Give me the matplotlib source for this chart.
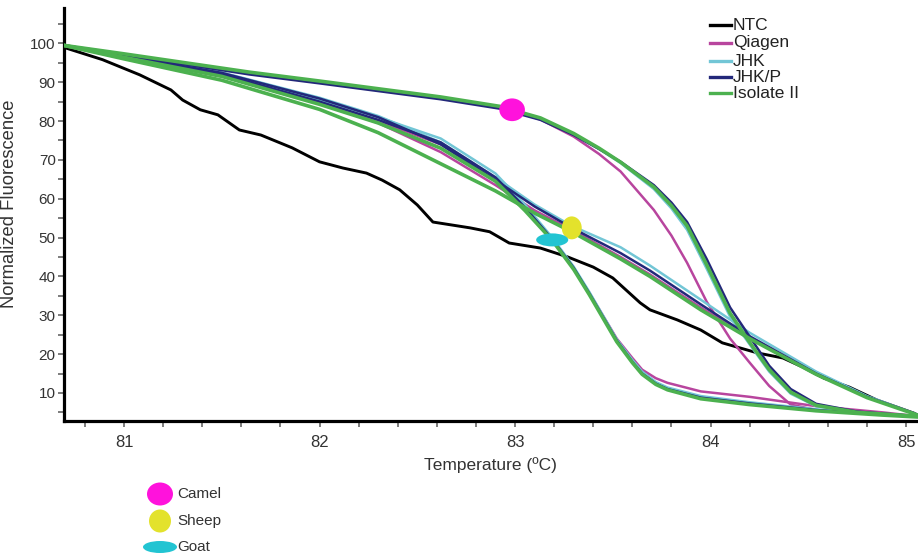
import numpy as np
import matplotlib
matplotlib.use("Agg")
import matplotlib.pyplot as plt
from matplotlib.patches import Ellipse
from matplotlib.lines import Line2D

plt.rcParams['font.family'] = ['Liberation Sans', 'DejaVu Sans']

# No-template control
ntc_temp = [80.69, 80.89, 81.08, 81.24, 81.30, 81.39, 81.48, 81.59, 81.70, 81.86,
            82.00, 82.12, 82.24, 82.32, 82.41, 82.50, 82.58, 82.77, 82.87, 82.97,
            83.13, 83.27, 83.40, 83.50, 83.64, 83.69, 83.83, 83.95, 84.06, 84.24,
            84.37, 84.47, 84.58, 84.71, 84.85, 85.04]
ntc_fluor = [99.0, 95.8, 91.9, 88.0, 85.4, 82.9, 81.6, 77.7, 76.4, 73.1,
             69.5, 67.9, 66.6, 64.8, 62.3, 58.4, 54.0, 52.5, 51.5, 48.6,
             47.3, 45.0, 42.4, 39.6, 33.2, 31.4, 28.8, 26.2, 22.9, 20.3,
             19.0, 16.7, 13.8, 11.5, 8.2, 4.8]

# Camel melt curves, one per extraction kit
camel_temp = [80.69, 81.0, 81.64, 82.0, 82.62, 82.92, 83.13, 83.30, 83.43, 83.54,
              83.71, 83.80, 83.88, 83.98, 84.10, 84.20, 84.30, 84.41, 84.54, 84.75, 85.06]
camel_qiagen = [99.5, 97.2, 92.4, 90.1, 86.0, 83.6, 80.4, 76.0, 71.5, 67.0,
                57.1, 50.5, 43.5, 33.5, 24.0, 17.8, 11.8, 7.0, 5.6, 4.8, 4.0]
camel_jhk = [99.5, 97.2, 92.4, 90.1, 86.0, 83.6, 80.6, 76.6, 72.8, 69.2,
             62.5, 57.5, 52.0, 42.0, 29.6, 22.5, 15.5, 9.8, 6.6, 5.0, 4.0]
camel_jhkp = [99.5, 97.0, 92.0, 89.7, 85.6, 83.2, 80.3, 76.4, 72.8, 69.5,
              63.5, 59.0, 54.0, 44.5, 32.0, 24.5, 17.0, 11.0, 7.2, 5.2, 4.0]
camel_isolate = [99.5, 97.3, 92.6, 90.3, 86.2, 83.8, 80.8, 76.8, 73.0, 69.4,
                 63.0, 58.2, 53.0, 43.0, 30.5, 23.0, 16.0, 10.2, 6.8, 5.0, 4.0]

# Sheep melt curves
sheep_temp = [80.69, 81.0, 81.5, 82.0, 82.3, 82.62, 82.9, 83.1, 83.29, 83.54,
              83.69, 83.95, 84.2, 84.54, 84.8, 85.06]
sheep_qiagen = [99.5, 96.3, 91.5, 84.5, 79.5, 72.0, 63.5, 57.0, 52.0, 45.0,
                40.5, 32.0, 24.2, 15.0, 9.0, 4.4]
sheep_jhk = [99.5, 96.9, 92.5, 86.0, 81.3, 74.5, 65.5, 58.5, 53.0, 47.5,
             42.8, 34.0, 25.5, 15.5, 9.2, 4.4]
sheep_jhkp = [99.5, 96.8, 92.4, 85.8, 81.0, 74.0, 64.8, 58.0, 52.5, 46.0,
              41.5, 32.8, 24.6, 15.0, 9.0, 4.4]
sheep_isolate = [99.5, 96.0, 90.5, 83.0, 77.0, 69.0, 62.0, 56.3, 51.5, 44.5,
                 40.0, 31.4, 24.0, 14.8, 8.8, 4.3]

# Goat melt curves
goat_temp = [80.69, 81.0, 81.5, 82.0, 82.3, 82.62, 82.9, 83.05, 83.19, 83.3,
             83.38, 83.52, 83.6, 83.65, 83.72, 83.78, 83.95, 84.2, 84.54, 84.88, 85.06]
goat_qiagen = [99.5, 96.5, 91.8, 84.8, 80.0, 74.0, 65.0, 57.5, 49.5, 42.0,
               35.8, 24.0, 19.0, 16.0, 13.8, 12.6, 10.4, 9.0, 6.6, 5.0, 4.0]
goat_jhk = [99.5, 96.8, 92.3, 85.5, 81.0, 75.5, 66.5, 58.5, 50.0, 42.5,
            36.0, 23.8, 18.5, 15.5, 12.8, 11.4, 9.2, 7.6, 5.8, 4.5, 3.9]
goat_jhkp = [99.5, 96.6, 92.0, 85.0, 80.3, 74.5, 65.5, 57.8, 49.6, 42.2,
             35.6, 23.5, 18.0, 15.0, 12.4, 11.0, 8.8, 7.3, 5.6, 4.4, 3.9]
goat_isolate = [99.5, 96.4, 91.5, 84.3, 79.5, 73.0, 64.5, 57.0, 49.3, 41.8,
                35.3, 23.2, 17.8, 14.8, 12.2, 10.8, 8.5, 7.0, 5.4, 4.3, 3.8]

kit_names = ['Qiagen', 'JHK', 'JHK/P', 'Isolate II']
kit_colors = ['#b8459e', '#72c6d6', '#23287a', '#4cb14f']
kit_widths = [1.8, 1.8, 1.8, 2.6]

# Tm markers for each species
species_names = ['Camel', 'Sheep', 'Goat']
species_temp = [82.985, 83.29, 83.19]
species_fluor = [82.9, 52.5, 49.4]
species_colors = ['#ff12dc', '#e3e22c', '#22c4d2']

fig = plt.figure(figsize=(9.18, 5.6), dpi=100)
ax = fig.add_axes([64 / 918, 1 - 421 / 560, 854 / 918, 413 / 560])

ax.plot(ntc_temp, ntc_fluor, color='black', lw=2.1, solid_joinstyle='round', zorder=2)

curves = [
    (camel_temp, [camel_qiagen, camel_jhk, camel_jhkp, camel_isolate]),
    (sheep_temp, [sheep_qiagen, sheep_jhk, sheep_jhkp, sheep_isolate]),
    (goat_temp, [goat_qiagen, goat_jhk, goat_jhkp, goat_isolate]),
]
for k in range(len(kit_names)):
    for temp, kits in curves:
        ax.plot(temp, kits[k], color=kit_colors[k], lw=kit_widths[k],
                solid_joinstyle='round', solid_capstyle='round', zorder=3 + k)

# species markers (ellipse sizes in data units)
marker_w = [0.131, 0.102, 0.164]
marker_h = [5.85, 5.9, 3.35]
for i in range(len(species_names)):
    ax.add_patch(Ellipse((species_temp[i], species_fluor[i]), marker_w[i], marker_h[i],
                         facecolor=species_colors[i], edgecolor='none', zorder=10))

ax.set_xlim(80.693, 85.061)
ax.set_ylim(2.78, 109.1)
ax.set_xticks([81, 82, 83, 84, 85])
ax.set_xticks(np.arange(80.8, 85.01, 0.2), minor=True)
ax.set_yticks(range(10, 101, 10))
ax.set_yticks(range(5, 106, 10), minor=True)
ax.tick_params(axis='x', which='both', direction='out', length=4, width=1.2,
               color='#666666', labelsize=12, labelcolor='#333333', pad=6)
ax.tick_params(axis='y', which='both', direction='out', length=4, width=1.2,
               color='#666666', labelsize=11, labelcolor='#333333', pad=2)

for s in ['top', 'right']:
    ax.spines[s].set_visible(False)
for s in ['left', 'bottom']:
    ax.spines[s].set_linewidth(2.3)
    ax.spines[s].set_color('black')

ax.set_xlabel('Temperature (ºC)', fontsize=12.5, color='#333333')
ax.xaxis.set_label_coords(0.499, -0.088)
ax.set_ylabel('Normalized Fluorescence', fontsize=13.2, color='#333333')
ax.yaxis.set_label_coords(-0.054, 0.525)

# kit legend, top right
legend_labels = ['NTC'] + kit_names
legend_colors = ['black'] + kit_colors
legend_rows = [25, 43, 61, 77, 93]
for lab, col, yp in zip(legend_labels, legend_colors, legend_rows):
    yf = 1 - yp / 560
    fig.add_artist(Line2D([710 / 918, 731 / 918], [yf, yf], color=col, lw=2.4,
                          transform=fig.transFigure))
    fig.text(733 / 918, yf, lab, fontsize=12.5, color='#222222', va='center', ha='left')

# species legend, bottom left
sp_rows = [494, 521, 547]
sp_w = [26, 22, 34]
sp_h = [23, 23, 12]
for i, name in enumerate(species_names):
    yf = 1 - sp_rows[i] / 560
    fig.add_artist(Ellipse((160 / 918, yf), sp_w[i] / 918, sp_h[i] / 560,
                           facecolor=species_colors[i], edgecolor='none',
                           transform=fig.transFigure))
    fig.text(177 / 918, yf, name, fontsize=11, color='#333333', va='center', ha='left')

fig.savefig('out.png', dpi=100)
